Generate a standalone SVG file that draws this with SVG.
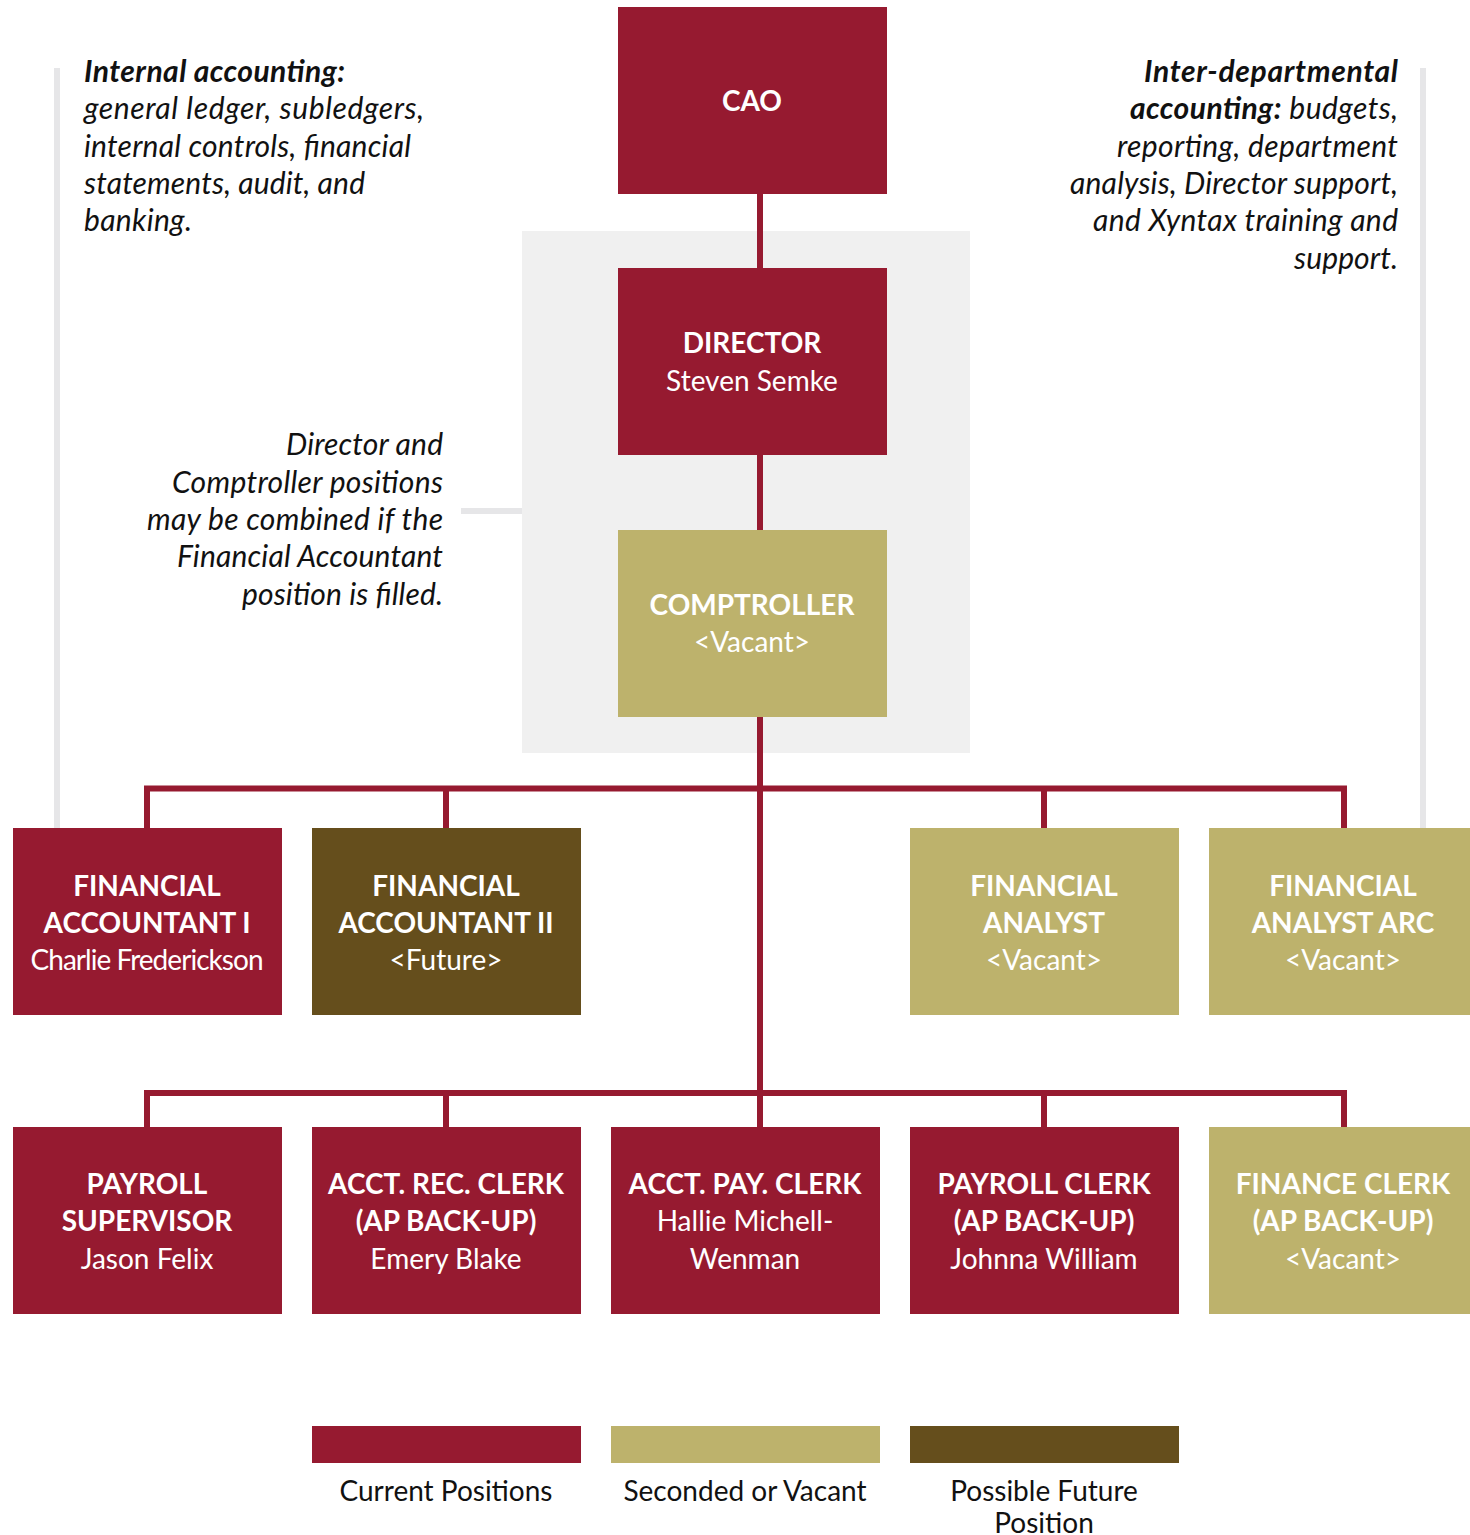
<svg xmlns="http://www.w3.org/2000/svg" width="1470" height="1535" viewBox="0 0 1470 1535">
<style>
.red{fill:#961a30}
.kh{fill:#bdb26c}
.br{fill:#654e1c}
.t{font-family:Lato,"Open Sans","Liberation Sans",sans-serif;fill:#fff;text-anchor:middle}
.h{font-weight:700;font-size:28px}
.n{font-weight:400;font-size:28px}
.a{font-family:Lato,"Open Sans","Liberation Sans",sans-serif;font-style:italic;font-size:30px;fill:#111}
.ab{font-weight:700}
.lg{font-family:Lato,"Open Sans","Liberation Sans",sans-serif;font-size:28px;fill:#111;text-anchor:middle}
.con{stroke:#961a30;stroke-width:6;fill:none}
.gl{stroke:#e6e6e8;stroke-width:6;fill:none}
</style>
<rect x="0" y="0" width="1470" height="1535" fill="#fff"/>
<rect id="group-box" x="522" y="231" width="448" height="522" fill="#f0f0f0"/>
<g id="guides">
<line class="gl" x1="57" y1="68" x2="57" y2="828"/>
<line class="gl" x1="1423" y1="68" x2="1423" y2="828"/>
<line class="gl" x1="461" y1="511" x2="522" y2="511"/>
</g>
<g id="connectors">
<line class="con" x1="760" y1="194" x2="760" y2="268"/>
<line class="con" x1="760" y1="455" x2="760" y2="530"/>
<line class="con" x1="760" y1="717" x2="760" y2="1127"/>
<polyline class="con" points="147,828 147,788.5 1344,788.5 1344,828"/>
<line class="con" x1="446" y1="788" x2="446" y2="828"/>
<line class="con" x1="1044" y1="788" x2="1044" y2="828"/>
<polyline class="con" points="147,1127 147,1093 1344,1093 1344,1127"/>
<line class="con" x1="446" y1="1093" x2="446" y2="1127"/>
<line class="con" x1="1044" y1="1093" x2="1044" y2="1127"/>
</g>
<g id="cao"><rect class="red" x="618" y="7" width="269" height="187"/><text class="t h" x="752" y="111">CAO</text></g>
<g id="director"><rect class="red" x="618" y="268" width="269" height="187"/><text class="t h" x="752" y="353">DIRECTOR</text><text class="t n" x="752" y="391">Steven Semke</text></g>
<g id="comptroller"><rect class="kh" x="618" y="530" width="269" height="187"/><text class="t h" x="752" y="615">COMPTROLLER</text><text class="t n" x="752" y="652">&lt;Vacant&gt;</text></g>
<g id="fa1"><rect class="red" x="13" y="828" width="269" height="187"/><text class="t h" x="147" y="896">FINANCIAL</text><text class="t h" x="147" y="933">ACCOUNTANT I</text><text class="t n" x="147" y="970" textLength="233">Charlie Frederickson</text></g>
<g id="fa2"><rect class="br" x="312" y="828" width="269" height="187"/><text class="t h" x="446" y="896">FINANCIAL</text><text class="t h" x="446" y="933">ACCOUNTANT II</text><text class="t n" x="446" y="970">&lt;Future&gt;</text></g>
<g id="analyst"><rect class="kh" x="910" y="828" width="269" height="187"/><text class="t h" x="1044" y="896">FINANCIAL</text><text class="t h" x="1044" y="933">ANALYST</text><text class="t n" x="1044" y="970">&lt;Vacant&gt;</text></g>
<g id="analyst-arc"><rect class="kh" x="1209" y="828" width="269" height="187"/><text class="t h" x="1343" y="896">FINANCIAL</text><text class="t h" x="1343" y="933">ANALYST ARC</text><text class="t n" x="1343" y="970">&lt;Vacant&gt;</text></g>
<g id="payroll-sup"><rect class="red" x="13" y="1127" width="269" height="187"/><text class="t h" x="147" y="1194">PAYROLL</text><text class="t h" x="147" y="1231">SUPERVISOR</text><text class="t n" x="147" y="1269">Jason Felix</text></g>
<g id="ar-clerk"><rect class="red" x="312" y="1127" width="269" height="187"/><text class="t h" x="446" y="1194">ACCT. REC. CLERK</text><text class="t h" x="446" y="1231">(AP BACK-UP)</text><text class="t n" x="446" y="1269">Emery Blake</text></g>
<g id="ap-clerk"><rect class="red" x="611" y="1127" width="269" height="187"/><text class="t h" x="745" y="1194">ACCT. PAY. CLERK</text><text class="t n" x="745" y="1231">Hallie Michell-</text><text class="t n" x="745" y="1269">Wenman</text></g>
<g id="payroll-clerk"><rect class="red" x="910" y="1127" width="269" height="187"/><text class="t h" x="1044" y="1194">PAYROLL CLERK</text><text class="t h" x="1044" y="1231">(AP BACK-UP)</text><text class="t n" x="1044" y="1269">Johnna William</text></g>
<g id="finance-clerk"><rect class="kh" x="1209" y="1127" width="269" height="187"/><text class="t h" x="1343" y="1194">FINANCE CLERK</text><text class="t h" x="1343" y="1231">(AP BACK-UP)</text><text class="t n" x="1343" y="1269">&lt;Vacant&gt;</text></g>
<g id="note-internal">
<text class="a" x="84" y="82" textLength="261"><tspan class="ab">Internal accounting:</tspan></text>
<text class="a" x="84" y="119" textLength="340">general ledger, subledgers,</text>
<text class="a" x="84" y="157" textLength="327">internal controls, financial</text>
<text class="a" x="84" y="194" textLength="281">statements, audit, and</text>
<text class="a" x="84" y="231" textLength="108">banking.</text>
</g>
<g id="note-inter" text-anchor="end">
<text class="a" x="1398" y="82" textLength="254"><tspan class="ab">Inter-departmental</tspan></text>
<text class="a" x="1398" y="119" textLength="268"><tspan class="ab">accounting:</tspan> budgets,</text>
<text class="a" x="1398" y="157" textLength="281">reporting, department</text>
<text class="a" x="1398" y="194" textLength="328">analysis, Director support,</text>
<text class="a" x="1398" y="231" textLength="305">and Xyntax training and</text>
<text class="a" x="1398" y="269" textLength="104">support.</text>
</g>
<g id="note-combined" text-anchor="end">
<text class="a" x="443" y="455" textLength="157">Director and</text>
<text class="a" x="443" y="493" textLength="271">Comptroller positions</text>
<text class="a" x="443" y="530" textLength="296">may be combined if the</text>
<text class="a" x="443" y="567" textLength="266">Financial Accountant</text>
<text class="a" x="443" y="605" textLength="201">position is filled.</text>
</g>
<g id="legend">
<rect class="red" x="312" y="1426" width="269" height="37"/>
<rect class="kh" x="611" y="1426" width="269" height="37"/>
<rect class="br" x="910" y="1426" width="269" height="37"/>
<text class="lg" x="446" y="1501">Current Positions</text>
<text class="lg" x="745" y="1501">Seconded or Vacant</text>
<text class="lg" x="1044" y="1501">Possible Future</text>
<text class="lg" x="1044" y="1533">Position</text>
</g>
</svg>
